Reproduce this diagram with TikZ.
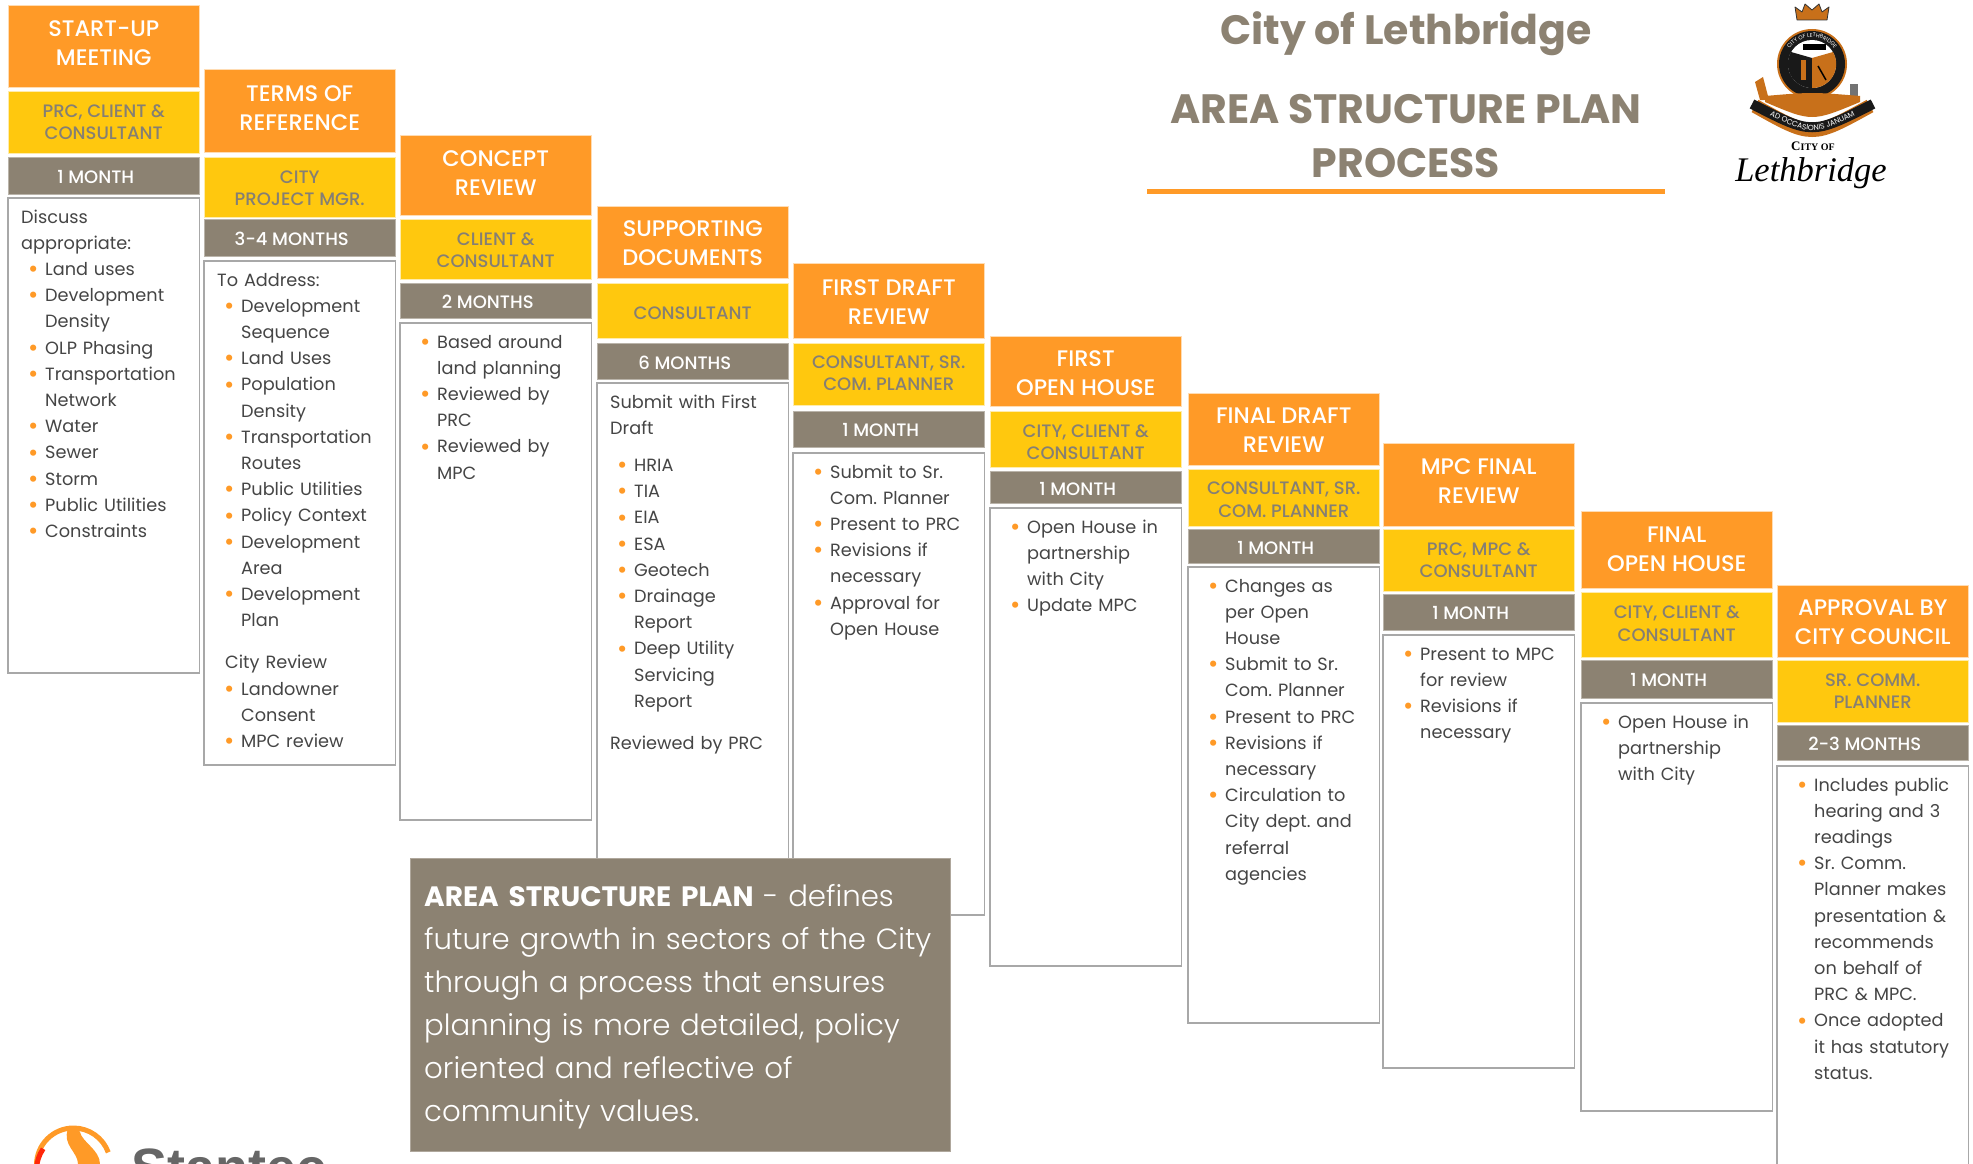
\documentclass[tikz,border=0pt]{standalone}
\usepackage{fontspec}
\setmainfont{Poppins}
\newfontfamily\midface{Poppins Medium}
\newfontfamily\thinface{Poppins Light}
\newfontfamily\serifface{Liberation Serif}
\newfontfamily\logoface{Liberation Sans}
\usetikzlibrary{positioning,decorations.text}
\definecolor{pumpkin}{HTML}{FF9A27}
\definecolor{amber}{HTML}{FFC80E}
\definecolor{stone}{HTML}{8C8272}
\definecolor{stoneText}{HTML}{857F74}
\definecolor{inkText}{HTML}{454545}
\definecolor{rimGray}{HTML}{A8A8A8}
\definecolor{crestOrange}{HTML}{C8701A}
\tikzset{
  lift/.style={execute at end node={\rule[-#1pt]{0pt}{0pt}}},
  drop/.style={execute at begin node={\rule{0pt}{#1pt}}},
  slab/.style={rectangle, minimum width=191.5pt, inner sep=0pt, outer sep=0pt, align=center},
  head/.style={slab, fill=pumpkin, draw=pumpkin!35, line width=.6pt, text=white, font=\midface\fontsize{22.5}{29}\selectfont},
  role/.style={slab, fill=amber, draw=amber!35, line width=.6pt, text=stoneText, font=\midface\fontsize{18}{22.5}\selectfont},
  term/.style={slab, fill=stone, draw=stone!60, line width=.6pt, text=white, font=\midface\fontsize{18}{20}\selectfont, drop=15.8, execute at end node={\hspace{16pt}}},
  body/.style={slab, fill=white, draw=rimGray, line width=1.3pt},
  lines/.style={anchor=base west, inner sep=0pt, text width=190pt, align=left, text=inkText, font=\frenchspacing\fontsize{17.7}{26.2}\selectfont},
  title/.style={text=stone, font=\fontsize{41}{53}\bfseries\selectfont, align=center, inner sep=0pt}
}
\newcommand{\pnt}[1]{\makebox[37pt][l]{\hspace*{20pt}\textcolor{pumpkin}{\raisebox{-2.2pt}{\fontsize{25}{0}\selectfont\textbullet}}}#1}
\newcommand{\cnt}[1]{\hspace*{37pt}#1}
\newcommand{\lead}[1]{\hspace*{13pt}#1}
\begin{document}
\begin{tikzpicture}[x=1pt, y=-1pt]
  \useasboundingbox (0,0) rectangle (1973,1164);
  \clip (0,0) rectangle (1973,1164);

  % start-up
  \node [head, lift=5, minimum height=82pt, anchor=north west] (head1) at (8,5) {START-UP\\MEETING};
  \node [role, minimum height=62pt, below=4pt of head1] (role1) {PRC, CLIENT \&\\CONSULTANT};
  \node [term, minimum height=37pt, below=4pt of role1] (term1) {1 MONTH};
  \node [body, minimum height=475pt, below=4pt of term1] (body1) {};
  \node [lines] (text1) at ([yshift=-25pt]body1.north west) {\lead{Discuss}\\\lead{appropriate:}\\\pnt{Land uses}\\\pnt{Development}\\\cnt{Density}\\\pnt{OLP Phasing}\\\pnt{Transportation}\\\cnt{Network}\\\pnt{Water}\\\pnt{Sewer}\\\pnt{Storm}\\\pnt{Public Utilities}\\\pnt{Constraints}};

  % terms of reference
  \node [head, lift=5, minimum height=83pt, anchor=north west] (head2) at (204,69) {TERMS OF\\REFERENCE};
  \node [role, drop=37.5, minimum height=60pt, below=5pt of head2] (role2) {CITY\\PROJECT MGR.};
  \node [term, minimum height=37pt, below=2pt of role2] (term2) {3-4 MONTHS};
  \node [body, minimum height=504pt, below=5pt of term2] (body2) {};
  \node [lines] (text2) at ([yshift=-25pt]body2.north west) {\lead{To Address:}\\\pnt{Development}\\\cnt{Sequence}\\\pnt{Land Uses}\\\pnt{Population}\\\cnt{Density}\\\pnt{Transportation}\\\cnt{Routes}\\\pnt{Public Utilities}\\\pnt{Policy Context}\\\pnt{Development}\\\cnt{Area}\\\pnt{Development}\\\cnt{Plan}\\[16pt]\hspace*{21pt}City Review\\\pnt{Landowner}\\\cnt{Consent}\\\pnt{MPC review}};

  % concept
  \node [head, lift=4, minimum height=80pt, anchor=north west] (head3) at (400,135) {CONCEPT\\REVIEW};
  \node [role, drop=37.5, minimum height=60pt, below=4pt of head3] (role3) {CLIENT \&\\CONSULTANT};
  \node [term, minimum height=35pt, below=4pt of role3] (term3) {2 MONTHS};
  \node [body, minimum height=497pt, below=5pt of term3] (body3) {};
  \node [lines] (text3) at ([yshift=-25pt]body3.north west) {\pnt{Based around}\\\cnt{land planning}\\\pnt{Reviewed by}\\\cnt{PRC}\\\pnt{Reviewed by}\\\cnt{MPC}};

  % supporting documents
  \node [head, drop=47.5, minimum height=72pt, anchor=north west] (head4) at (597,206) {SUPPORTING\\DOCUMENTS};
  \node [role, drop=17.8, minimum height=55pt, below=5pt of head4] (role4) {CONSULTANT};
  \node [term, drop=17, minimum height=36pt, below=5pt of role4] (term4) {6 MONTHS};
  \node [body, minimum height=517pt, below=4pt of term4] (body4) {};
  \node [lines] (text4) at ([yshift=-25pt]body4.north west) {\lead{Submit with First}\\\lead{Draft}\\[11pt]\pnt{HRIA}\\\pnt{TIA}\\\pnt{EIA}\\\pnt{ESA}\\\pnt{Geotech}\\\pnt{Drainage}\\\cnt{Report}\\\pnt{Deep Utility}\\\cnt{Servicing}\\\cnt{Report}\\[16pt]\lead{Reviewed by PRC}};

  % first draft
  \node [head, drop=47.5, minimum height=75pt, anchor=north west] (head5) at (793,263) {FIRST DRAFT\\REVIEW};
  \node [role, lift=2, minimum height=62pt, below=5pt of head5] (role5) {CONSULTANT, SR.\\COM. PLANNER};
  \node [term, minimum height=36pt, below=6pt of role5] (term5) {1 MONTH};
  \node [body, minimum height=462pt, below=6pt of term5] (body5) {};
  \node [lines] (text5) at ([yshift=-25pt]body5.north west) {\pnt{Submit to Sr.}\\\cnt{Com. Planner}\\\pnt{Present to PRC}\\\pnt{Revisions if}\\\cnt{necessary}\\\pnt{Approval for}\\\cnt{Open House}};

  % first open house
  \node [head, drop=50, minimum height=70pt, anchor=north west] (head6) at (990,336) {FIRST\\OPEN HOUSE};
  \node [role, drop=41.3, minimum height=56pt, below=5pt of head6] (role6) {CITY, CLIENT \&\\CONSULTANT};
  \node [term, drop=17, minimum height=32pt, below=4pt of role6] (term6) {1 MONTH};
  \node [body, minimum height=458pt, below=5pt of term6] (body6) {};
  \node [lines] (text6) at ([yshift=-25pt]body6.north west) {\pnt{Open House in}\\\cnt{partnership}\\\cnt{with City}\\\pnt{Update MPC}};

  % final draft
  \node [head, drop=47.5, minimum height=72pt, anchor=north west] (head7) at (1188,393) {FINAL DRAFT\\REVIEW};
  \node [role, drop=39.3, minimum height=57pt, below=4pt of head7] (role7) {CONSULTANT, SR.\\COM. PLANNER};
  \node [term, drop=17, minimum height=34pt, below=3pt of role7] (term7) {1 MONTH};
  \node [body, minimum height=456pt, below=4pt of term7] (body7) {};
  \node [lines] (text7) at ([yshift=-25pt]body7.north west) {\pnt{Changes as}\\\cnt{per Open}\\\cnt{House}\\\pnt{Submit to Sr.}\\\cnt{Com. Planner}\\\pnt{Present to PRC}\\\pnt{Revisions if}\\\cnt{necessary}\\\pnt{Circulation to}\\\cnt{City dept. and}\\\cnt{referral}\\\cnt{agencies}};

  % mpc final
  \node [head, lift=7, minimum height=83pt, anchor=north west] (head8) at (1383,443) {MPC FINAL\\REVIEW};
  \node [role, minimum height=62pt, below=3pt of head8] (role8) {PRC, MPC \&\\CONSULTANT};
  \node [term, minimum height=36pt, below=3pt of role8] (term8) {1 MONTH};
  \node [body, minimum height=433pt, below=5pt of term8] (body8) {};
  \node [lines] (text8) at ([yshift=-25pt]body8.north west) {\pnt{Present to MPC}\\\cnt{for review}\\\pnt{Revisions if}\\\cnt{necessary}};

  % final open house
  \node [head, minimum height=77pt, anchor=north west] (head9) at (1581,511) {FINAL\\OPEN HOUSE};
  \node [role, lift=2, minimum height=65pt, below=4pt of head9] (role9) {CITY, CLIENT \&\\CONSULTANT};
  \node [term, minimum height=38pt, below=3pt of role9] (term9) {1 MONTH};
  \node [body, minimum height=408pt, below=5pt of term9] (body9) {};
  \node [lines] (text9) at ([yshift=-25pt]body9.north west) {\pnt{Open House in}\\\cnt{partnership}\\\cnt{with City}};

  % council
  \node [head, drop=47.5, minimum height=72pt, anchor=north west] (head10) at (1777,585) {APPROVAL BY\\CITY COUNCIL};
  \node [role, minimum height=62pt, below=3pt of head10] (role10) {SR. COMM.\\PLANNER};
  \node [term, minimum height=35pt, below=3pt of role10] (term10) {2-3 MONTHS};
  \node [body, minimum height=420pt, below=6pt of term10] (body10) {};
  \node [lines] (text10) at ([yshift=-25pt]body10.north west) {\pnt{Includes public}\\\cnt{hearing and 3}\\\cnt{readings}\\\pnt{Sr. Comm.}\\\cnt{Planner makes}\\\cnt{presentation \&}\\\cnt{recommends}\\\cnt{on behalf of}\\\cnt{PRC \& MPC.}\\\pnt{Once adopted}\\\cnt{it has statutory}\\\cnt{status.}};

  % definition box
  \node [rectangle, fill=stone, draw=stone!70, line width=.6pt, outer sep=0pt, minimum width=540pt, minimum height=293pt, anchor=north west] (note) at (410,858) {};
  \node [anchor=base west, inner sep=0pt, text=white, text width=530pt, align=left, font=\thinface\fontsize{29.2}{43}\selectfont] (noteText) at (424,906) {{\rmfamily\bfseries\fontsize{28}{43}\selectfont AREA STRUCTURE PLAN} - defines\\future growth in sectors of the City\\through a process that ensures\\planning is more detailed, policy\\oriented and reflective of\\community values.};

  % title
  \node [title, anchor=base] (cityName) at (1406,45) {City of Lethbridge};
  \node [title, anchor=base] (planName) at (1406,123) {AREA STRUCTURE PLAN};
  \node [title, anchor=base] (processName) at (1406,177) {PROCESS};
  \node [minimum width=518pt, minimum height=5pt, inner sep=0pt, fill=pumpkin] (titleRule) at (1406,191) {};

  % crest
  \draw [black!80, fill=crestOrange, line width=.8pt, line join=round] (1797,20) -- (1795,7) -- (1802,12) -- (1805,4) -- (1812,10) -- (1819,4) -- (1822,12) -- (1829,7) -- (1827,20) -- cycle;
  \fill [crestOrange] (1812,64) circle (35);
  \fill [black!90] (1812,64) circle (33);
  \fill [white] (1812,64) circle (24);
  \fill [black!90] (1812,58) -- (1791,52) arc (210:90:24) -- cycle;
  \fill [crestOrange] (1812,58) -- (1833,52) arc (-30:90:24) -- cycle;
  \fill [black] (1803,44) rectangle (1826,50);
  \fill [crestOrange] (1801,60) rectangle (1806,80);
  \draw [black, line width=1.5pt] (1818,66) -- (1826,80);
  \path [decorate, decoration={text along path, text={|\fontsize{5.5}{6}\selectfont\color{white}|CITY OF LETHBRIDGE}, text align=center}] (1786.6,73.2) arc (160:380:27);
  \fill [crestOrange] (1760,100) -- (1755,82) -- (1763,77) -- (1769,100) -- cycle;
  \fill [black!55] (1850,100) rectangle (1858,84);
  \fill [crestOrange] (1765,96) .. controls (1812,92) .. (1860,96) -- (1860,102) .. controls (1812,122) .. (1765,102) -- cycle;
  \draw [line width=14pt, crestOrange] (1755,106) .. controls (1812,138) .. (1870,106);
  \draw [line width=10pt, black!90] (1752,104) .. controls (1812,135) .. (1873,104);
  \path [decorate, decoration={text along path, text={|\fontsize{7.5}{8}\selectfont\color{white}|AD OCCASIONIS JANUAM}, text align=center}] (1754,107) .. controls (1812,138) .. (1871,107);
  \node [inner sep=0pt, font=\serifface\fontsize{13}{14}\bfseries\selectfont] (cityOf) at (1813,146) {C\fontsize{10}{12}\selectfont ITY OF};
  \node [inner sep=0pt, anchor=base, font=\serifface\fontsize{34.5}{40}\itshape\selectfont] (lethName) at (1811,181) {Lethbridge};

  % stantec
  \draw [line width=5pt, pumpkin] (36.5,1165) arc (180:340:37);
  \draw [line width=5pt, red!75!pumpkin] (36.5,1170) arc (180:215:37);
  \fill [pumpkin] (68,1129) .. controls (62,1145) and (78,1152) .. (78,1164) -- (100,1164) .. controls (100,1150) and (82,1142) .. (80,1132) .. controls (79,1129) and (74,1127) .. cycle;
  \node [anchor=base west, inner sep=0pt, text=black!60, font=\logoface\fontsize{54}{54}\bfseries\selectfont] (stantecName) at (131,1186) {Stantec};
\end{tikzpicture}
\end{document}
